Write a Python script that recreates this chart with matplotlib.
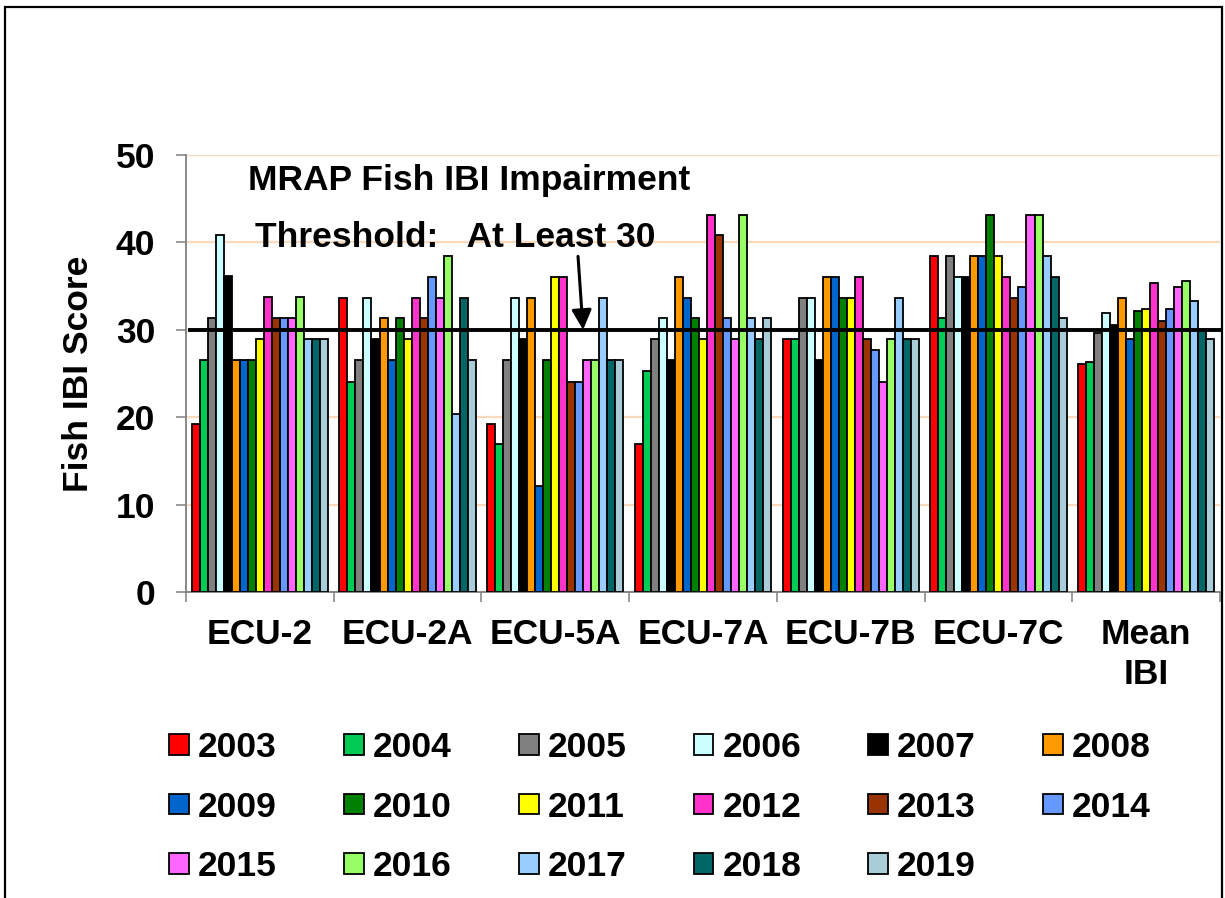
import matplotlib
matplotlib.use("Agg")
import matplotlib.pyplot as plt
from matplotlib.patches import Patch, Rectangle
import numpy as np

plt.rcParams['font.family'] = ['Liberation Sans', 'DejaVu Sans']
plt.rcParams['font.weight'] = 'bold'

# Sampling stations (x categories)
stations = ["ECU-2", "ECU-2A", "ECU-5A", "ECU-7A", "ECU-7B", "ECU-7C", "Mean\nIBI"]

# Survey years (one bar per year within each station)
years = ["2003", "2004", "2005", "2006", "2007", "2008", "2009", "2010", "2011",
         "2012", "2013", "2014", "2015", "2016", "2017", "2018", "2019"]

year_colors = ["#FF0000", "#00CC55", "#808080", "#CCFFFF", "#000000", "#FF9900",
               "#0066CC", "#008000", "#FFFF00", "#FF33CC", "#993300", "#6699FF",
               "#FF66FF", "#99FF66", "#99CCFF", "#006666", "#A8CCD8"]

# Fish IBI scores per station, ordered 2003 ... 2019
ecu_2 = [19.2, 26.5, 31.3, 40.8, 36.1, 26.5, 26.5, 26.5, 28.9,
         33.7, 31.3, 31.3, 31.3, 33.7, 28.9, 28.9, 28.9]
ecu_2a = [33.6, 24.0, 26.5, 33.6, 28.9, 31.3, 26.5, 31.3, 28.9,
          33.6, 31.3, 36.0, 33.6, 38.4, 20.4, 33.6, 26.5]
ecu_5a = [19.2, 16.9, 26.5, 33.6, 28.9, 33.6, 12.1, 26.5, 36.0,
          36.0, 24.0, 24.0, 26.5, 26.5, 33.6, 26.5, 26.5]
ecu_7a = [16.9, 25.3, 28.9, 31.3, 26.5, 36.0, 33.6, 31.3, 28.9,
          43.1, 40.8, 31.3, 28.9, 43.1, 31.3, 28.9, 31.3]
ecu_7b = [28.9, 28.9, 33.6, 33.6, 26.5, 36.0, 36.0, 33.6, 33.6,
          36.0, 28.9, 27.7, 24.0, 28.9, 33.6, 28.9, 28.9]
ecu_7c = [38.4, 31.3, 38.4, 36.0, 36.0, 38.4, 38.4, 43.1, 38.4,
          36.0, 33.6, 34.9, 43.1, 43.1, 38.4, 36.0, 31.3]
mean_ibi = [26.1, 26.3, 29.6, 31.9, 30.6, 33.6, 28.9, 32.1, 32.4,
            35.4, 31.0, 32.4, 34.9, 35.6, 33.3, 30.1, 28.9]

threshold = 30
yticks = [0, 10, 20, 30, 40, 50]

scores = np.array([ecu_2, ecu_2a, ecu_5a, ecu_7a, ecu_7b, ecu_7c, mean_ibi])

W, H = 1225, 898
fig = plt.figure(figsize=(W / 100, H / 100), dpi=100)
ax = fig.add_axes([186 / W, 1 - 592 / H, (1220 - 186) / W, (592 - 155) / H])

FS = 25.5
n_years = len(years)
group_frac = 0.923
bw = group_frac / n_years
x = np.arange(len(stations))

for j, (yr, col) in enumerate(zip(years, year_colors)):
    ax.bar(x + (j - (n_years - 1) / 2) * bw, scores[:, j], width=bw,
           color=col, edgecolor="black", linewidth=1.3, zorder=3, label=yr)

ax.set_xlim(-0.5, len(stations) - 0.5)
ax.set_ylim(0, 50)

# light peach gridlines
ax.set_yticks(yticks)
ax.yaxis.grid(True, color="#FAD9BC", linewidth=1.6, zorder=0)
ax.set_axisbelow(True)

for s in ("top", "right"):
    ax.spines[s].set_visible(False)
for s in ("left", "bottom"):
    ax.spines[s].set_color("#808080")
    ax.spines[s].set_linewidth(1.3)

ax.tick_params(axis="y", direction="out", length=7.2, width=1.1, color="#808080",
               labelsize=FS, pad=15)
ax.set_xticks(x)
ax.set_xticklabels(stations, fontsize=FS, fontweight="bold", linespacing=1.25)
ax.set_xticks(np.arange(-0.5, len(stations)), minor=True)
ax.tick_params(axis="x", which="major", length=0, pad=19)
ax.tick_params(axis="x", which="minor", direction="out", length=7.2, width=1.1,
               color="#808080")
for lab in ax.get_yticklabels():
    lab.set_fontweight("bold")

ax.set_ylabel("Fish IBI Score", fontsize=FS, fontweight="bold", labelpad=15)

# impairment threshold line
ax.plot([-0.485, 6.52], [threshold, threshold], color="black", lw=2.8,
        zorder=5, clip_on=False, solid_capstyle="butt")

ax.text(-0.08, 47.1, "MRAP Fish IBI Impairment", fontsize=FS, fontweight="bold",
        ha="left", va="center", zorder=6)
ax.text(-0.033, 40.6, "Threshold:   At Least 30", fontsize=FS, fontweight="bold",
        ha="left", va="center", zorder=6)
ax.annotate("", xy=(2.188, threshold), xytext=(2.154, 38.4),
            arrowprops=dict(arrowstyle="-|>", color="black", lw=2.2,
                            mutation_scale=30, shrinkA=0, shrinkB=0),
            zorder=6)

# legend laid out row by row (6 columns)
handles = [Patch(facecolor=c, edgecolor="black", linewidth=1.3) for c in year_colors]
ncol = 6
nrow = int(np.ceil(n_years / ncol))
order = [r * ncol + c for c in range(ncol) for r in range(nrow) if r * ncol + c < n_years]
fig.legend([handles[i] for i in order], [years[i] for i in order],
           ncol=ncol, loc="upper left", bbox_to_anchor=(169 / W, 1 - 731 / H),
           frameon=False, fontsize=FS, borderpad=0, borderaxespad=0,
           handlelength=0.56, handleheight=0.5, handletextpad=0.25,
           columnspacing=1.9, labelspacing=0.75,
           prop={"weight": "bold", "size": FS})

# outer frame
fig.patches.append(Rectangle((5 / W, -0.05), (1222 - 5) / W, 1.05 - 7 / H,
                             transform=fig.transFigure, fill=False,
                             edgecolor="black", linewidth=1.6))

fig.savefig("out.png", dpi=100)
